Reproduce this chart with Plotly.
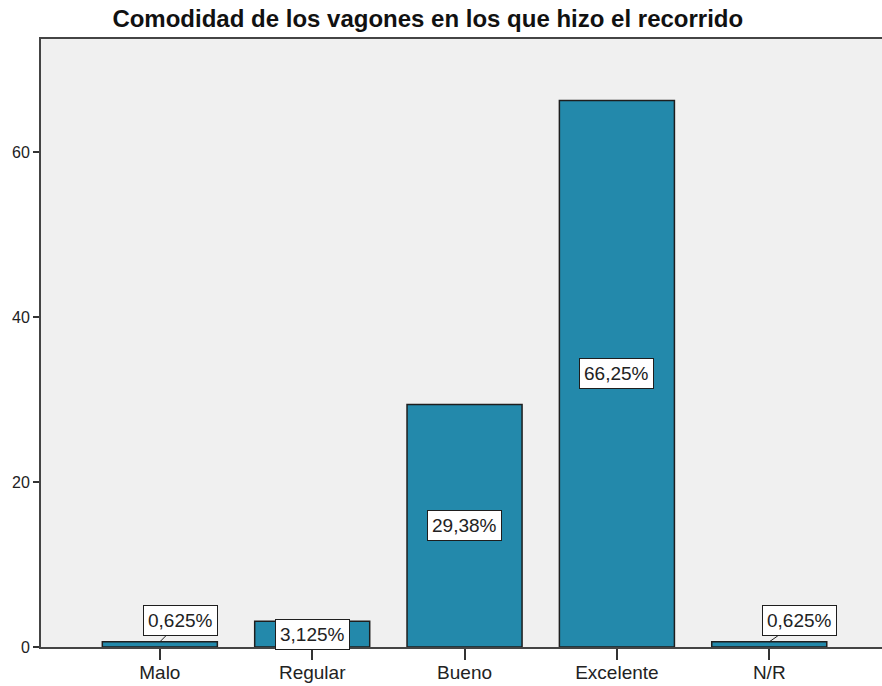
import plotly.graph_objects as go

categorias = ["Malo", "Regular", "Bueno", "Excelente", "N/R"]
porcentajes = [0.625, 3.125, 29.38, 66.25, 0.625]
etiquetas = ["0,625%", "3,125%", "29,38%", "66,25%", "0,625%"]
y_ticks = [0, 20, 40, 60]

fuente = "Liberation Sans, Arial, sans-serif"

fig = go.Figure()
fig.add_trace(go.Bar(
    x=list(range(len(categorias))),
    y=porcentajes,
    width=0.755,
    marker=dict(color="#2389AB", line=dict(color="#1e1e1e", width=1.5)),
    hoverinfo="skip",
))

# etiquetas en caja blanca; las barras muy bajas llevan una linea conectora
for i, (v, txt) in enumerate(zip(porcentajes, etiquetas)):
    base = dict(text=txt, xref="x", yref="y", bgcolor="white",
                bordercolor="#1e1e1e", borderwidth=1, borderpad=4,
                font=dict(family=fuente, size=19, color="#222"))
    if v < 2:
        fig.add_annotation(x=i, y=v, showarrow=True, arrowhead=0,
                           arrowwidth=1, arrowcolor="#1e1e1e",
                           ax=21 if i == 0 else 30, ay=-21, **base)
    else:
        fig.add_annotation(x=i, y=v / 2, showarrow=False, **base)

fig.update_layout(
    width=882, height=686,
    margin=dict(l=41, r=0, t=39, b=39),
    paper_bgcolor="white",
    plot_bgcolor="#F0F0F0",
    showlegend=False,
    title=dict(text="<b>Comodidad de los vagones en los que hizo el recorrido</b>",
               x=0.485, xanchor="center", y=0.973, yanchor="middle",
               font=dict(family=fuente, size=24, color="#111")),
    font=dict(family=fuente, size=19, color="#222"),
)
fig.update_xaxes(
    range=[-0.78, 4.74],
    tickvals=list(range(len(categorias))), ticktext=categorias,
    showline=True, linecolor="#444", linewidth=2, mirror=True,
    ticks="outside", ticklen=11, tickwidth=2, tickcolor="#333",
    ticklabelstandoff=-4, automargin=False,
    showgrid=False, zeroline=False,
)
fig.update_yaxes(
    range=[0, 73.7], tickvals=y_ticks,
    showline=True, linecolor="#444", linewidth=2,
    ticks="outside", ticklen=6, tickwidth=2, tickcolor="#333",
    tickfont=dict(size=16), automargin=False,
    showgrid=False, zeroline=False,
)

# sin margen ni barras de desplazamiento: la figura ocupa toda la ventana
fig.write_html("out.html",
               config={"displayModeBar": False},
               post_script="document.body.style.margin='0';"
                           "document.body.style.overflow='hidden';"
                           "document.documentElement.style.overflow='hidden';")
